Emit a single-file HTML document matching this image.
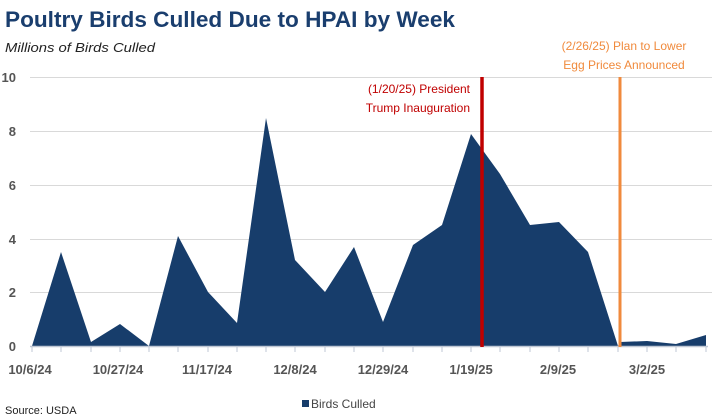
<!DOCTYPE html>
<html><head><meta charset="utf-8"><style>
body{margin:0;background:#fff;width:723px;height:420px;overflow:hidden}
svg{display:block}
text{font-family:"Liberation Sans",sans-serif}
</style></head><body>
<svg width="723" height="420" viewBox="0 0 723 420">
<text x="5" y="27" font-size="22" font-weight="bold" fill="#1a3e6e" textLength="450" lengthAdjust="spacingAndGlyphs">Poultry Birds Culled Due to HPAI by Week</text>
<text x="5" y="52" font-size="13" font-style="italic" fill="#222" textLength="150" lengthAdjust="spacingAndGlyphs">Millions of Birds Culled</text>
<g stroke="#d9d9d9" stroke-width="1">
<line x1="30" x2="712" y1="77.5" y2="77.5"/><line x1="30" x2="712" y1="131.5" y2="131.5"/>
<line x1="30" x2="712" y1="185.5" y2="185.5"/><line x1="30" x2="712" y1="239.5" y2="239.5"/>
<line x1="30" x2="712" y1="292.5" y2="292.5"/>
</g>
<g font-size="13" font-weight="bold" fill="#555" text-anchor="end">
<text x="16" y="82">10</text><text x="16" y="136">8</text><text x="16" y="190">6</text>
<text x="16" y="244">4</text><text x="16" y="297">2</text><text x="16" y="351">0</text>
</g>
<polygon fill="#173d6b" points="32,346 61,252 91,342 120,324 149,346 178,236 208,292 237,323 266,118 295,260 325,292 354,247 383,322 413,245 442,225 471,134 500,174 530,225 559,222 588,252 618,346 620,342 647,341 676,344 706,335 706,346"/>
<line x1="30" x2="708" y1="346.5" y2="346.5" stroke="#bfc7d4" stroke-width="1.5"/>
<g stroke="#bfc7d4" stroke-width="1">
<line x1="32" x2="32" y1="346" y2="352"/><line x1="61" x2="61" y1="346" y2="352"/><line x1="91" x2="91" y1="346" y2="352"/><line x1="120" x2="120" y1="346" y2="352"/><line x1="149" x2="149" y1="346" y2="352"/><line x1="178" x2="178" y1="346" y2="352"/><line x1="208" x2="208" y1="346" y2="352"/><line x1="237" x2="237" y1="346" y2="352"/><line x1="266" x2="266" y1="346" y2="352"/><line x1="295" x2="295" y1="346" y2="352"/><line x1="325" x2="325" y1="346" y2="352"/><line x1="354" x2="354" y1="346" y2="352"/><line x1="383" x2="383" y1="346" y2="352"/><line x1="413" x2="413" y1="346" y2="352"/><line x1="442" x2="442" y1="346" y2="352"/><line x1="471" x2="471" y1="346" y2="352"/><line x1="500" x2="500" y1="346" y2="352"/><line x1="530" x2="530" y1="346" y2="352"/><line x1="559" x2="559" y1="346" y2="352"/><line x1="588" x2="588" y1="346" y2="352"/><line x1="618" x2="618" y1="346" y2="352"/><line x1="647" x2="647" y1="346" y2="352"/><line x1="676" x2="676" y1="346" y2="352"/><line x1="706" x2="706" y1="346" y2="352"/>
</g>
<line x1="482" x2="482" y1="77" y2="347" stroke="#c00000" stroke-width="3.5"/>
<line x1="620" x2="620" y1="77" y2="347" stroke="#f08a3c" stroke-width="3"/>
<g font-size="12" fill="#c00000" text-anchor="end">
<text x="470" y="93">(1/20/25)  President</text><text x="470" y="112">Trump Inauguration</text>
</g>
<g font-size="12" fill="#f08a3c" text-anchor="middle">
<text x="624" y="50">(2/26/25)  Plan to Lower</text><text x="624" y="69">Egg Prices Announced</text>
</g>
<g font-size="13" font-weight="bold" fill="#555" text-anchor="middle">
<text x="30" y="374">10/6/24</text><text x="118" y="374">10/27/24</text><text x="207" y="374">11/17/24</text>
<text x="295" y="374">12/8/24</text><text x="383" y="374">12/29/24</text><text x="471" y="374">1/19/25</text>
<text x="558" y="374">2/9/25</text><text x="647" y="374">3/2/25</text>
</g>
<rect x="302" y="400" width="7" height="7" fill="#173d6b"/>
<text x="311" y="408" font-size="12" fill="#444">Birds Culled</text>
<text x="5" y="414" font-size="11" fill="#222">Source: USDA</text>
</svg>
</body></html>
